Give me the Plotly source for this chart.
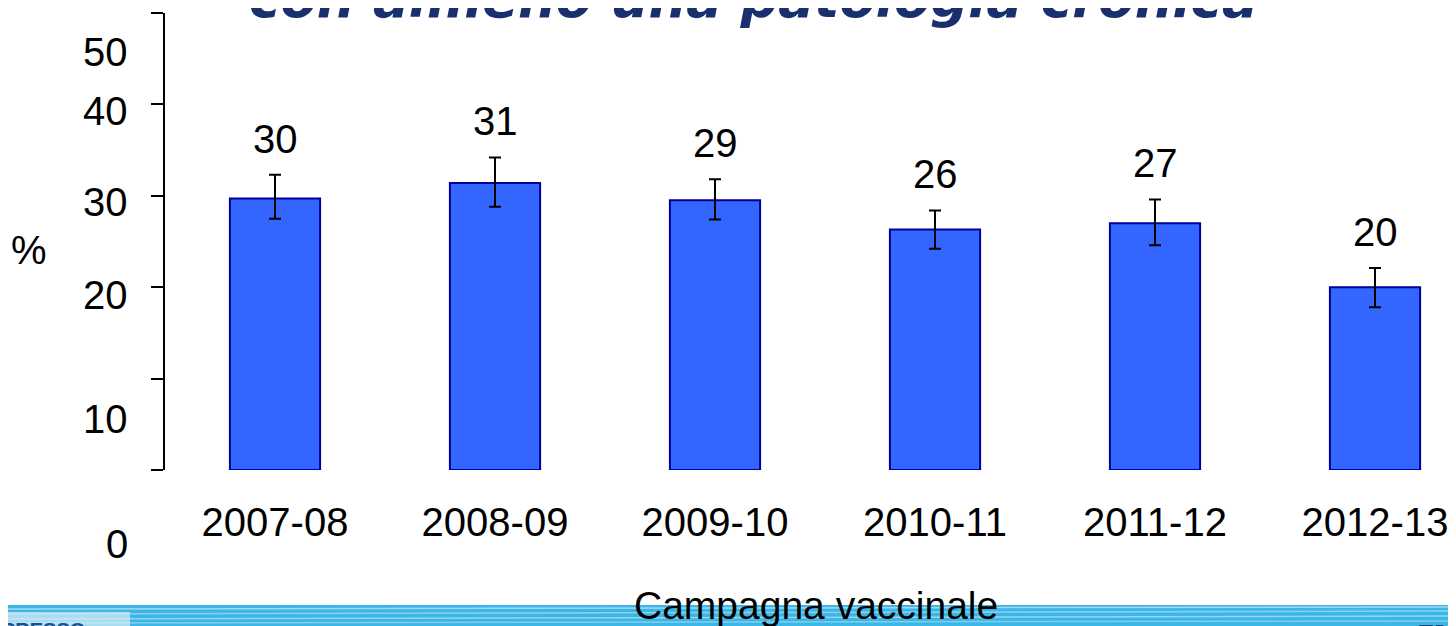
import plotly.graph_objects as go

# data
campagne = ["2007-08", "2008-09", "2009-10", "2010-11", "2011-12", "2012-13"]
valori = [29.7, 31.4, 29.5, 26.3, 27.0, 20.0]
ic_sup = [32.3, 34.2, 31.8, 28.4, 29.6, 22.1]
ic_inf = [27.5, 28.8, 27.4, 24.2, 24.6, 17.8]
etichette = ["30", "31", "29", "26", "27", "20"]

# y tick labels sit slightly off their ticks in the original slide
tick_testi = ["50", "40", "30", "20", "10", "0"]
tick_pos = [45.7, 39.3, 29.3, 19.1, 5.6, -8.1]

Y_MAX = 50

# the page body has an 8px margin, so the figure is drawn 8px smaller
OFF = 8
W, H = 1456 - OFF, 626 - OFF
ML, MT = 165 - OFF, 13 - OFF
MB = H - (470 - OFF)
plot_h = H - MT - MB
plot_w = W - ML

FONT = "Liberation Sans, Arial, sans-serif"

err_plus = [s - v for s, v in zip(ic_sup, valori)]
err_minus = [v - i for v, i in zip(valori, ic_inf)]

fig = go.Figure()
fig.add_trace(go.Bar(
    x=campagne,
    y=valori,
    marker=dict(color="#3366FF", line=dict(color="#000099", width=2)),
    error_y=dict(type="data", symmetric=False, array=err_plus, arrayminus=err_minus,
                 color="black", thickness=2, width=6),
    width=0.41,
    showlegend=False,
    hoverinfo="skip",
))


# helpers: screen pixel -> paper coordinate
def py(px):
    return (470 - px) / plot_h


def px_x(px):
    return (px - 165) / plot_w


annotations = []
# value labels above the error bars
for c, s, t in zip(campagne, ic_sup, etichette):
    annotations.append(dict(x=c, y=s, xref="x", yref="y", text=t, showarrow=False,
                            yanchor="middle", yshift=36,
                            font=dict(family=FONT, size=40, color="black")))

# y tick labels (paper coords so the one below the range is still drawn)
for t, p in zip(tick_testi, tick_pos):
    annotations.append(dict(x=0, y=p / Y_MAX, xref="paper", yref="paper", text=t,
                            showarrow=False, xanchor="right", yanchor="middle", xshift=-35,
                            font=dict(family=FONT, size=40, color="black")))

# "%" axis title
annotations.append(dict(x=px_x(29), y=py(250), xref="paper", yref="paper", text="%",
                        showarrow=False, xanchor="center", yanchor="middle",
                        font=dict(family=FONT, size=40, color="black")))

# x axis title
annotations.append(dict(x=px_x(816), y=py(605), xref="paper", yref="paper",
                        text="Campagna vaccinale", showarrow=False,
                        xanchor="center", yanchor="middle",
                        font=dict(family=FONT, size=39, color="black")))

# slide title, cut at the top
annotations.append(dict(x=px_x(753), y=1, xref="paper", yref="paper",
                        text="<b><i>con almeno una patologia cronica</i></b>", showarrow=False,
                        xanchor="center", yanchor="bottom", yshift=-18,
                        font=dict(family="DejaVu Sans, Verdana, sans-serif", size=53,
                                  color="#1A2F6E")))

# decorative footer strip of the slide
shapes = [dict(type="rect", xref="paper", yref="paper",
               x0=px_x(0), x1=px_x(1460), y0=py(630), y1=py(605),
               fillcolor="#3CB6E6", line=dict(width=0), layer="below")]
for y0, y1, op in [(609, 607, 0.5), (614, 611, 0.4), (619, 616, 0.45), (623, 621, 0.35)]:
    shapes.append(dict(type="line", xref="paper", yref="paper",
                       x0=px_x(0), x1=px_x(1460), y0=py(y0), y1=py(y1),
                       line=dict(color="white", width=1.5), opacity=op, layer="below"))
shapes.append(dict(type="rect", xref="paper", yref="paper",
                   x0=px_x(0), x1=px_x(130), y0=py(630), y1=py(612),
                   fillcolor="#D8ECF6", line=dict(width=0), opacity=0.7, layer="below"))

annotations.append(dict(x=px_x(0), y=py(626), xref="paper", yref="paper",
                        text="<b>PRESSO</b>", showarrow=False, xanchor="left", yanchor="middle",
                        yshift=-4, font=dict(family=FONT, size=20, color="#1A4F8A")))
annotations.append(dict(x=px_x(1456), y=py(626), xref="paper", yref="paper",
                        text="<b>EI</b>", showarrow=False, xanchor="right", yanchor="middle",
                        yshift=-6, xshift=-10, font=dict(family="Liberation Serif, serif", size=24,
                                                         color="#1A3F7A")))

fig.update_layout(
    width=W, height=H,
    margin=dict(l=ML, r=0, t=MT, b=MB, autoexpand=False),
    paper_bgcolor="white", plot_bgcolor="white",
    font=dict(family=FONT, size=40, color="black"),
    annotations=annotations,
    shapes=shapes,
    xaxis=dict(type="category", range=[-0.5, -0.5 + plot_w / 220], showline=False,
               showgrid=False, zeroline=False, ticks="", ticklabelstandoff=25,
               tickangle=0, automargin=False,
               tickfont=dict(family=FONT, size=40, color="black")),
    yaxis=dict(range=[0, Y_MAX], tickvals=[0, 10, 20, 30, 40, 50], showticklabels=False,
               ticks="outside", ticklen=12, tickwidth=2, tickcolor="black",
               showline=True, linecolor="black", linewidth=2,
               showgrid=False, zeroline=False, automargin=False),
)

fig.write_html("out.html")
